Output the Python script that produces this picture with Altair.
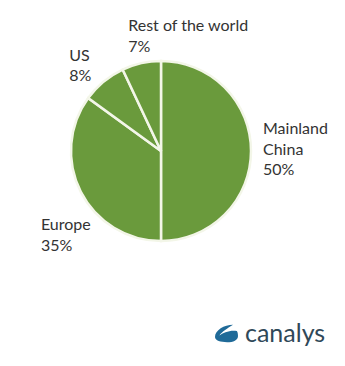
import math
import altair as alt
import pandas as pd

# ---- data ----
regions = ["Mainland China", "Europe", "US", "Rest of the world"]
label_names = ["Mainland\nChina", "Europe", "US", "Rest of the world"]
shares = [50, 35, 8, 7]
brand = ["canalys"]

df = pd.DataFrame({
    "region": regions,
    "name": label_names,
    "share": shares,
    "idx": list(range(len(regions))),
})
df["label"] = df["name"] + "\n" + df["share"].astype(str) + "%"

GREEN = "#6a9a3c"
TEXT = "#333333"
FONT = "Lato"
theta_scale = alt.Scale(domain=[0, 100], range=[0, 2 * math.pi])

base = alt.Chart(df)

pie = base.mark_arc(radius=90, stroke="#f3f6e8", strokeWidth=2.5, fill=GREEN).encode(
    theta=alt.Theta("share:Q", stack=True, scale=theta_scale),
    order=alt.Order("idx:Q"),
)

# label offsets (style) per region
offsets = {
    "Mainland China": (0, -22, 102),
    "Europe": (-31, 29, 100),
    "US": (-28, -18, 100),
    "Rest of the world": (-11, -27, 100),
}

labels = []
for reg, (dx, dy, r) in offsets.items():
    t = (
        base.transform_window(cum="sum(share)", sort=[alt.SortField("idx")], frame=[None, 0])
        .transform_calculate(mid="datum.cum - datum.share / 2")
        .transform_filter(alt.datum.region == reg)
        .mark_text(radius=r, dx=dx, dy=dy, align="left", baseline="middle",
                   lineBreak="\n", lineHeight=20.5, font=FONT, fontSize=16, color=TEXT)
        .encode(
            theta=alt.Theta("mid:Q", stack=None, scale=theta_scale),
            text="label:N",
        )
    )
    labels.append(t)

bdf = pd.DataFrame({"t": brand})
logo_text = alt.Chart(bdf).mark_text(
    align="left", baseline="alphabetic", font=FONT, fontSize=25, color="#2f4858"
).encode(text="t:N", x=alt.value(245), y=alt.value(342))

swoosh = ("M 0.57 -0.72 C -0.2 -0.72 -1.0 -0.25 -1.0 0.35 C -1.0 0.65 -0.5 0.8 0.05 0.8 "
          "C 0.6 0.8 1.0 0.6 1.0 0.25 C 1.0 0.05 0.95 -0.1 0.9 -0.17 "
          "C 0.4 -0.3 -0.3 -0.05 -0.62 0.22 C -0.4 -0.12 0.1 -0.42 0.57 -0.72 Z")
logo_icon = alt.Chart(bdf).mark_point(
    shape=swoosh, filled=True, fill="#1f6a98", size=529, strokeWidth=0, opacity=1
).encode(x=alt.value(226.5), y=alt.value(333))

chart = (
    alt.layer(pie, *labels, logo_icon, logo_text)
    .properties(
        width=322, height=302,
        padding={"left": 0, "top": 0, "right": 23, "bottom": 64},
        autosize=alt.AutoSizeParams(type="none"),
        background="white",
    )
    .configure_view(strokeWidth=0)
)

chart.save("out.html", embed_options={"renderer": "svg", "actions": False})
